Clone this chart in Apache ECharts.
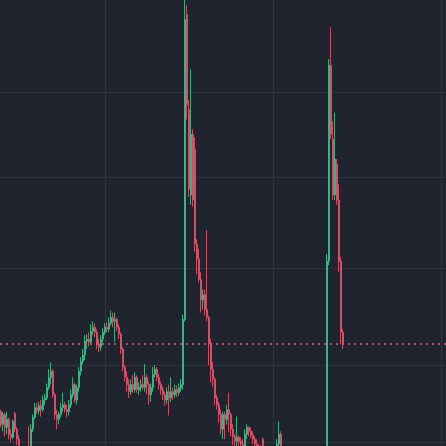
<!DOCTYPE html>
<html><head><meta charset="utf-8">
<script src="https://cdn.jsdelivr.net/npm/echarts@6/dist/echarts.min.js"></script>
<style>html,body{margin:0;padding:0;background:#1f242e;}#c{width:446px;height:446px;}</style>
</head><body><div id="c"></div>
<script>
const opens=[
13.542,13.420,13.514,13.392,13.467,13.326,13.298,13.523,13.373,13.279,
13.138,13.072,13.016,13.091,13.204,13.072,13.373,13.486,13.580,13.552,
13.599,13.561,13.655,13.675,13.776,13.877,13.937,13.706,13.514,13.467,
13.514,13.580,13.608,13.561,13.542,13.608,13.706,13.806,13.655,13.776,
13.937,14.038,14.099,14.240,14.260,14.230,14.340,14.381,14.330,14.209,
14.179,14.260,14.330,14.381,14.361,14.421,14.482,14.441,14.461,14.381,
14.310,14.159,13.978,13.877,13.806,13.736,13.806,13.756,13.877,13.756,
13.776,13.806,13.776,13.877,13.806,13.706,13.776,13.907,13.957,13.877,
13.806,13.756,13.706,13.655,13.736,13.675,13.736,13.706,13.756,13.726,
13.776,13.806,14.461,17.967,16.790,15.803,16.500,16.326,15.258,15.096,
14.879,14.663,14.717,14.562,14.482,14.209,13.957,13.857,13.675,13.608,
13.514,13.373,13.514,13.467,13.561,13.514,13.373,13.307,13.260,13.298,
13.260,13.232,13.204,13.326,13.392,13.354,13.317,13.279,13.232,13.204,
13.185,13.279,13.138,13.110,13.072,13.044,13.091,13.072,13.091,13.232,
13.326,13.185,13.110,13.072,13.044,12.997,13.016,12.978,12.950,12.997,
12.969,12.941,12.978,12.950,12.922,12.959,12.941,12.978,12.997,12.978,
13.016,12.997,13.016,13.016,15.074,17.330,16.442,15.803,16.151,15.745,
15.074,14.330];
const closes=[
13.420,13.514,13.392,13.467,13.326,13.298,13.448,13.373,13.279,13.138,
13.072,13.016,13.091,13.138,13.072,13.373,13.486,13.580,13.552,13.599,
13.561,13.655,13.675,13.776,13.877,13.937,13.706,13.514,13.467,13.514,
13.580,13.608,13.561,13.542,13.608,13.706,13.806,13.655,13.776,13.937,
14.038,14.099,14.240,14.260,14.230,14.340,14.381,14.330,14.209,14.179,
14.260,14.330,14.381,14.361,14.421,14.482,14.441,14.461,14.381,14.310,
14.159,13.978,13.877,13.806,13.736,13.806,13.756,13.877,13.756,13.776,
13.806,13.776,13.877,13.806,13.706,13.776,13.907,13.957,13.877,13.806,
13.756,13.706,13.655,13.736,13.675,13.736,13.706,13.756,13.726,13.776,
13.806,14.461,17.904,16.848,15.861,16.500,15.745,15.258,15.096,14.879,
14.663,14.717,14.562,14.482,14.209,13.957,13.857,13.675,13.608,13.514,
13.373,13.514,13.467,13.561,13.514,13.373,13.307,13.260,13.298,13.260,
13.232,13.204,13.326,13.392,13.354,13.317,13.279,13.232,13.204,13.185,
13.166,13.138,13.110,13.072,13.044,13.091,13.072,13.091,13.232,13.326,
13.185,13.110,13.072,13.044,12.997,13.016,12.978,12.950,12.997,12.969,
12.941,12.978,12.950,12.922,12.959,12.941,12.978,12.997,12.978,13.016,
12.997,13.016,12.997,15.074,17.330,16.500,15.803,16.209,15.745,15.074,
14.330,14.209];
const lows=[
13.392,13.354,13.307,13.326,13.279,13.251,13.279,13.345,13.223,13.091,
12.997,12.950,12.978,13.044,12.997,13.044,13.345,13.467,13.523,13.514,
13.495,13.542,13.608,13.655,13.756,13.806,13.675,13.467,13.373,13.420,
13.486,13.542,13.533,13.486,13.505,13.580,13.675,13.627,13.608,13.736,
13.897,14.008,14.048,14.159,14.189,14.199,14.300,14.280,14.159,14.129,
14.139,14.230,14.300,14.330,14.330,14.401,14.381,14.230,14.340,14.260,
14.109,13.937,13.837,13.736,13.675,13.706,13.726,13.726,13.726,13.706,
13.736,13.756,13.736,13.706,13.608,13.636,13.736,13.877,13.837,13.756,
13.706,13.655,13.599,13.617,13.505,13.636,13.655,13.675,13.685,13.696,
13.736,13.756,14.441,16.674,15.781,15.691,15.669,15.172,14.934,14.847,
14.532,14.562,14.502,14.441,13.998,13.826,13.786,13.608,13.561,13.439,
13.326,13.279,13.279,13.420,13.345,13.307,13.223,13.185,13.185,13.166,
13.138,13.138,13.166,13.279,13.307,13.289,13.232,13.185,13.138,13.110,
13.091,13.091,13.044,12.997,12.978,12.997,13.016,12.997,13.044,13.185,
13.138,13.044,13.016,12.997,12.950,12.922,12.903,12.884,12.903,12.922,
12.903,12.903,12.922,12.884,12.884,12.903,12.922,12.941,12.941,12.950,
12.959,12.959,12.941,12.950,15.031,16.442,15.745,15.745,15.691,14.955,
14.209,14.159];
const highs=[
13.561,13.542,13.533,13.542,13.486,13.373,13.467,13.542,13.392,13.317,
13.185,13.110,13.138,13.185,13.401,13.420,13.514,13.627,13.627,13.636,
13.655,13.696,13.716,13.816,13.957,14.028,13.957,13.726,13.561,13.542,
13.627,13.726,13.636,13.608,13.655,13.756,13.877,13.826,13.806,13.978,
14.078,14.159,14.300,14.310,14.330,14.411,14.441,14.421,14.361,14.260,
14.300,14.371,14.421,14.431,14.482,14.552,14.532,14.532,14.482,14.411,
14.330,14.179,13.998,13.937,13.857,13.857,13.897,13.927,13.897,13.826,
13.857,13.897,14.008,13.907,13.837,13.816,13.978,13.998,13.978,13.907,
13.837,13.786,13.736,13.776,13.806,13.877,13.776,13.806,13.796,13.816,
13.857,14.512,18.528,18.092,16.906,17.280,16.558,16.465,15.312,15.204,
14.955,14.771,14.771,15.410,14.502,14.260,14.028,13.877,13.706,13.636,
13.561,13.542,13.542,13.608,13.726,13.533,13.420,13.326,13.495,13.317,
13.298,13.279,13.373,13.420,13.401,13.392,13.354,13.307,13.279,13.232,
13.223,13.298,13.185,13.138,13.110,13.138,13.138,13.138,13.279,13.448,
13.354,13.204,13.138,13.110,13.091,13.072,13.044,13.016,13.044,13.035,
12.997,13.016,13.016,12.997,12.997,12.997,13.016,13.044,13.035,13.072,
13.054,13.072,13.072,15.150,17.405,17.805,16.651,16.755,16.209,15.919,
15.117,14.361];

const categoryCount = 223;
const categories = Array.from({length: categoryCount}, (_, i) => 'T' + (i + 1));
const horizontalGrid = [17, 16, 15, 14];
const bottomBorder = [13.248];
const verticalGridIndex = [52, 136, 220];
const yRange = [13.215, 18.154];

const candles = opens.map((o, i) => [o, closes[i], lows[i], highs[i]]);
const lastClose = closes[closes.length - 1];

const chart = echarts.init(document.getElementById('c'));
chart.setOption({
  backgroundColor: '#1f242e',
  animation: false,
  grid: {left: 0, right: 0, top: 0, bottom: 0},
  xAxis: {
    type: 'category', data: categories, boundaryGap: true,
    axisLine: {show: false}, axisTick: {show: false}, axisLabel: {show: false}, splitLine: {show: false}
  },
  yAxis: {
    type: 'log', logBase: 10, min: yRange[0], max: yRange[1],
    axisLine: {show: false}, axisTick: {show: false}, axisLabel: {show: false}, splitLine: {show: false}
  },
  series: [
    {
      type: 'line', data: [], z: 1, silent: true,
      markLine: {
        silent: true, symbol: 'none', z: 1, animation: false,
        label: {show: false}, emphasis: {disabled: true},
        lineStyle: {color: '#2f3540', width: 1, type: 'solid'},
        data: [
          ...horizontalGrid.map(v => ({yAxis: v})),
          ...bottomBorder.map(v => ({yAxis: v})),
          ...verticalGridIndex.map(i => ({xAxis: categories[i]}))
        ]
      }
    },
    {
      type: 'candlestick', data: candles, barWidth: 1.5, z: 3,
      itemStyle: {color: '#3dba8b', color0: '#d9546b', borderColor: '#3dba8b', borderColor0: '#d9546b', borderWidth: 1, opacity: 0.92},
      markLine: {
        silent: true, symbol: 'none', animation: false,
        label: {show: false}, emphasis: {disabled: true},
        lineStyle: {color: '#d25b70', width: 2, type: [2, 4], opacity: 0.85},
        data: [{yAxis: lastClose}]
      }
    }
  ]
});
</script></body></html>
